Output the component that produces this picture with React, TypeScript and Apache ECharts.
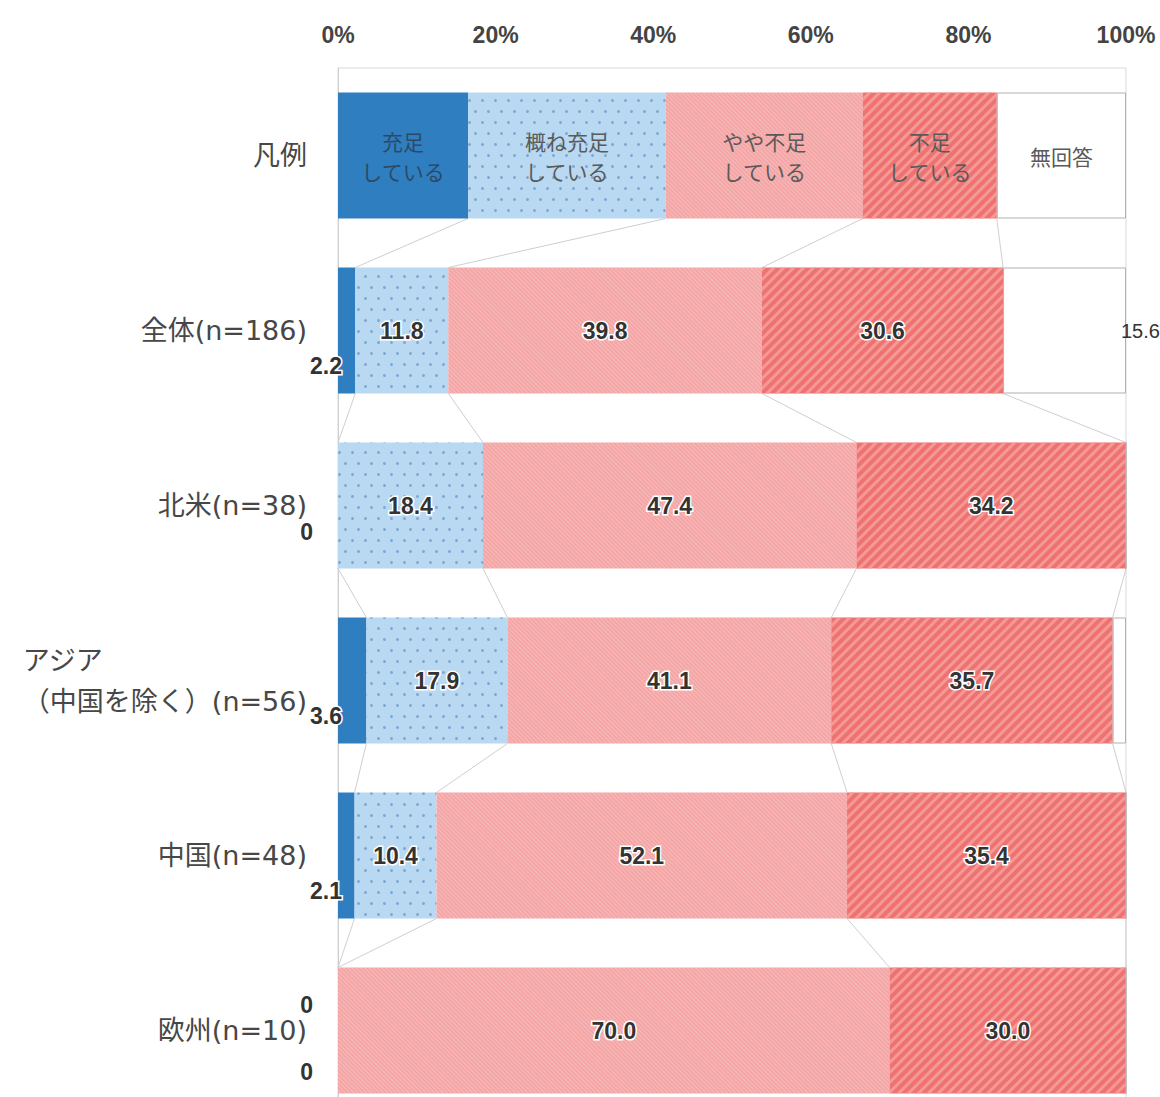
import React, { useEffect, useRef } from "react";
import * as echarts from "echarts";

// Row labels (top row is the in-chart legend)
const categories = [
  "凡例",
  "全体(n=186)",
  "北米(n=38)",
  "アジア\n（中国を除く）(n=56)",
  "中国(n=48)",
  "欧州(n=10)",
];

const seriesNames = ["充足している", "概ね充足している", "やや不足している", "不足している", "無回答"];
const legendLabels = ["充足\nしている", "概ね充足\nしている", "やや不足\nしている", "不足\nしている", "無回答"];
// Widths of the legend row blocks (%)
const legendShares = [16.5, 25.1, 25.0, 17.0, 16.4];

// Answer shares per region (%), order: 全体, 北米, アジア, 中国, 欧州
const sufficient = [2.2, 0, 3.6, 2.1, 0];
const mostlySufficient = [11.8, 18.4, 17.9, 10.4, 0];
const somewhatShort = [39.8, 47.4, 41.1, 52.1, 70.0];
const short = [30.6, 34.2, 35.7, 35.4, 30.0];
const noAnswer = [15.6, 0, 1.7, 0, 0];

const values = [sufficient, mostlySufficient, somewhatShort, short, noAnswer];

const VALUE_FONT = "'Liberation Sans', Arial, sans-serif";
const NARROW_FONT = "'Liberation Sans Narrow', 'Liberation Sans', sans-serif";
const JP_FONT = "'Noto Sans CJK JP', sans-serif";
const CAT_FONT = "'DejaVu Sans', 'Noto Sans CJK JP', sans-serif";

const barStyles: any[] = [
  { color: "#2f7ec0" },
  {
    color: "#b9d8f1",
    decal: {
      symbol: "circle",
      symbolSize: 1,
      dashArrayX: [
        [2.4, 9.6],
        [0, 6, 2.4, 3.6],
      ],
      dashArrayY: [2.4, 8],
      color: "#7fa8d2",
    },
  },
  {
    color: "#f4a5a5",
    decal: {
      symbol: "rect",
      symbolSize: 1,
      dashArrayX: [1, 0],
      dashArrayY: [1, 2],
      rotation: Math.PI / 4,
      color: "rgba(255,235,235,0.3)",
    },
  },
  {
    color: "#ee7272",
    decal: {
      symbol: "rect",
      symbolSize: 1,
      dashArrayX: [1, 0],
      dashArrayY: [3, 4],
      rotation: -Math.PI / 4,
      color: "rgba(247,160,155,0.85)",
    },
  },
  { color: "#ffffff", borderColor: "#b0b0b0", borderWidth: 1 },
];

const valueLabelBase = {
  show: true,
  fontFamily: VALUE_FONT,
  fontSize: 23,
  fontWeight: "bold",
  color: "#333",
  textBorderColor: "#fff",
  textBorderWidth: 3,
};

const fmt = (v: number) => (v === 0 ? "0" : v.toFixed(1));

// Label for one segment of a region row
function segmentLabel(s: number, row: number, v: number): any {
  if (s <= 1 && v < 5) {
    // tiny or empty segments get their label beside the axis
    let pos: any[] = [4, "78%"];
    if (v === 0) {
      if (row === 5) pos = [-25, s === 0 ? "30%" : "83%"];
      else pos = [-25, "71%"];
    }
    return {
      ...valueLabelBase,
      position: pos,
      align: "right",
      verticalAlign: "middle",
      formatter: fmt(v),
    };
  }
  if (s === 4) {
    if (v < 5) return { show: false };
    return {
      ...valueLabelBase,
      fontFamily: NARROW_FONT,
      fontSize: 20,
      textBorderWidth: 0,
      fontWeight: "normal",
      position: "right",
      distance: -5,
      formatter: fmt(v),
    };
  }
  if (v === 0) return { show: false };
  return { ...valueLabelBase, position: "inside", formatter: fmt(v) };
}

function buildSeries(): any[] {
  const bars = seriesNames.map((name, s) => ({
    name,
    type: "bar",
    stack: "total",
    barWidth: "72%",
    itemStyle: barStyles[s],
    data: [
      {
        value: legendShares[s],
        label: {
          show: true,
          position: "inside",
          formatter: legendLabels[s],
          fontFamily: JP_FONT,
          fontSize: 21,
          lineHeight: 30,
          color: s === 0 ? "#2c4a68" : "#5a5a5a",
        },
      },
      ...values[s].map((v, i) => ({ value: v, label: segmentLabel(s, i + 1, v) })),
    ],
  }));

  // cumulative boundaries per row for the connector lines
  const rows = [legendShares, ...sufficient.map((_, i) => values.map((arr) => arr[i]))];
  const cum = rows.map((r) => {
    const out: number[] = [];
    let acc = 0;
    for (let k = 0; k < 4; k++) {
      acc += r[k];
      out.push(acc);
    }
    return out;
  });
  const links: number[][] = [];
  for (let r = 0; r < rows.length - 1; r++) {
    for (let k = 0; k < 4; k++) links.push([cum[r][k], r, cum[r + 1][k], r + 1]);
  }

  const connectors = {
    type: "custom",
    silent: true,
    z: 1,
    encode: { x: [0, 2], y: [1, 3] },
    data: links,
    renderItem: (_params: any, api: any) => {
      const a = api.coord([api.value(0), api.value(1)]);
      const b = api.coord([api.value(2), api.value(3)]);
      const half = api.size([0, 1])[1] * 0.36;
      return {
        type: "line",
        shape: { x1: a[0], y1: a[1] + half, x2: b[0], y2: b[1] - half },
        style: { stroke: "#cfcfcf", lineWidth: 1 },
      };
    },
  };

  return [...bars, connectors];
}

export default function App() {
  const ref = useRef<HTMLDivElement>(null);

  useEffect(() => {
    if (!ref.current) return;
    const chart = echarts.init(ref.current, undefined, { renderer: "svg" });
    chart.setOption({
      animation: false,
      backgroundColor: "#fff",
      grid: {
        left: 338,
        right: 34,
        top: 68,
        bottom: 2,
        show: true,
        borderColor: "#d9d9d9",
        borderWidth: 1,
      },
      xAxis: {
        type: "value",
        position: "top",
        min: 0,
        max: 100,
        interval: 20,
        axisLine: { show: false },
        axisTick: { show: false },
        splitLine: { show: false },
        axisLabel: {
          formatter: "{value}%",
          fontFamily: VALUE_FONT,
          fontSize: 23,
          fontWeight: "bold",
          color: "#444",
          margin: 22,
        },
      },
      yAxis: {
        type: "category",
        inverse: true,
        data: categories,
        axisTick: { show: false },
        axisLine: { show: true, lineStyle: { color: "#cfcfcf" } },
        axisLabel: {
          margin: 31,
          fontFamily: CAT_FONT,
          fontSize: 27,
          color: "#474747",
          formatter: (v: string) =>
            v.includes("\n")
              ? v
                  .split("\n")
                  .map((s) => `{w|${s}}`)
                  .join("\n")
              : v,
          rich: {
            w: {
              align: "left",
              fontFamily: CAT_FONT,
              fontSize: 27,
              lineHeight: 41,
              color: "#474747",
            },
          },
        },
      },
      series: buildSeries(),
    });
    return () => chart.dispose();
  }, []);

  return (
    <div
      style={{
        position: "absolute",
        left: 0,
        top: 0,
        width: 1160,
        height: 1097,
        overflow: "hidden",
        background: "#fff",
      }}
    >
      <div ref={ref} style={{ width: 1160, height: 1120 }} />
    </div>
  );
}
